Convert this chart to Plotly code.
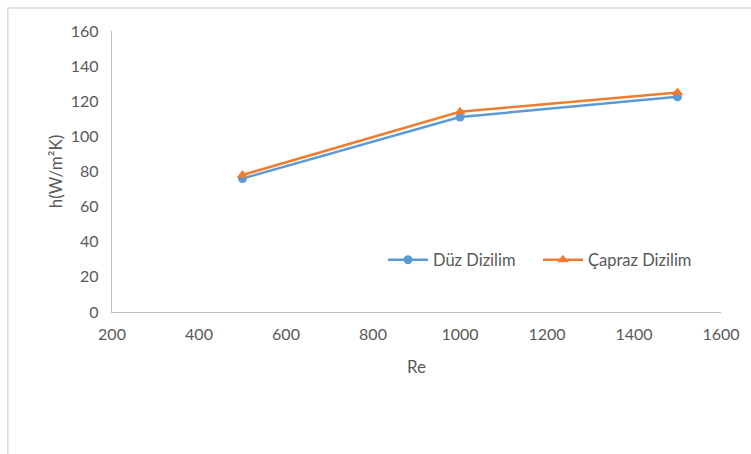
import plotly.graph_objects as go

# Heat transfer coefficient vs Reynolds number for two tube arrangements
re_values = [500, 1000, 1500]
duz_dizilim = [76, 111, 122.5]
capraz_dizilim = [78, 114, 125]

series_names = ["Düz Dizilim", "Çapraz Dizilim"]
x_ticks = [200, 400, 600, 800, 1000, 1200, 1400, 1600]
y_ticks = [0, 20, 40, 60, 80, 100, 120, 140, 160]

font_family = "Lato, Open Sans, sans-serif"
text_gray = "#595959"
axis_gray = "#BFBFBF"

fig = go.Figure()
fig.add_trace(go.Scatter(
    x=re_values, y=duz_dizilim, name=series_names[0],
    mode="lines+markers",
    line=dict(color="#5B9BD5", width=2.5),
    marker=dict(symbol="circle", size=9, color="#5B9BD5"),
))
fig.add_trace(go.Scatter(
    x=re_values, y=capraz_dizilim, name=series_names[1],
    mode="lines+markers",
    line=dict(color="#ED7D31", width=2.5),
    marker=dict(symbol="triangle-up", size=10, color="#ED7D31"),
))

fig.update_layout(
    width=751, height=454,
    margin=dict(l=112, r=30, t=31, b=142),
    paper_bgcolor="white", plot_bgcolor="white",
    font=dict(family=font_family, size=16, color=text_gray),
    legend=dict(
        orientation="h", x=0.445, y=0.185, xanchor="left", yanchor="middle",
        font=dict(size=16.5, color=text_gray), itemwidth=40,
        entrywidth=100, entrywidthmode="pixels",
        bgcolor="rgba(0,0,0,0)",
    ),
    xaxis=dict(
        range=[200, 1600], tickvals=x_ticks, showgrid=False, zeroline=False,
        showline=True, linecolor=axis_gray, linewidth=1.3,
        ticks="outside", ticklen=8, tickcolor="rgba(0,0,0,0)",
        tickfont=dict(size=16),
        title=dict(text="Re", standoff=18, font=dict(size=17, color=text_gray)),
        automargin=False,
    ),
    yaxis=dict(
        range=[0, 160], tickvals=y_ticks, showgrid=False, zeroline=False,
        showline=True, linecolor=axis_gray, linewidth=1.3,
        ticks="outside", ticklen=9, tickcolor="rgba(0,0,0,0)",
        tickfont=dict(size=16),
        title=dict(text="h(W/m²K)", standoff=3, font=dict(size=17, color=text_gray)),
        automargin=False,
    ),
    shapes=[dict(
        type="rect", xref="paper", yref="paper",
        x0=-0.171, x1=1.1, y0=-0.6, y1=1.082,
        line=dict(color="#D9D9D9", width=1.5), fillcolor="rgba(0,0,0,0)",
        layer="below",
    )],
)

fig.write_html("out.html")
